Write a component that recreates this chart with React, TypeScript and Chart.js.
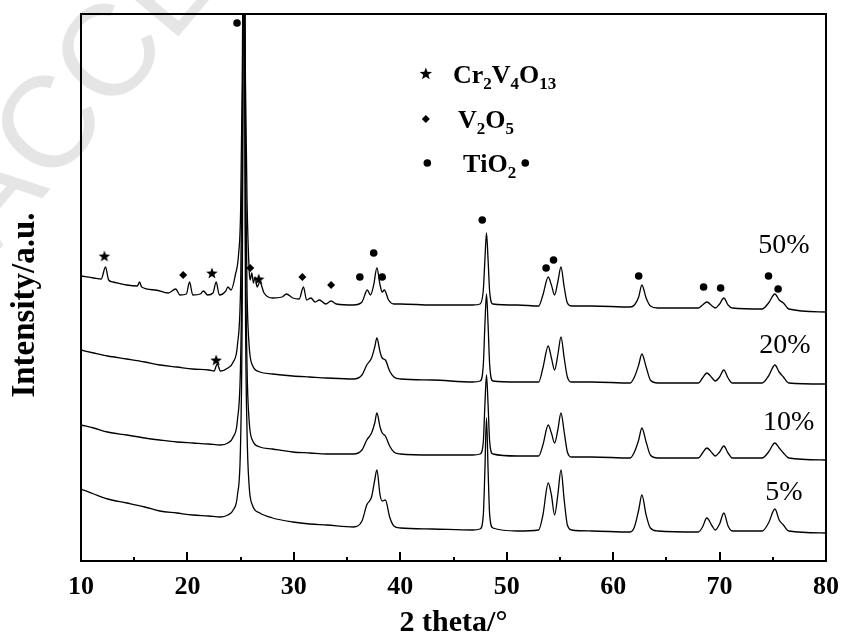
import React, { useEffect, useRef } from "react";
import { Chart, registerables } from "chart.js";

Chart.register(...registerables);

// ---------- data (2θ in degrees, intensity in a.u. incl. stacking offset) ----------
const theta5 = [10, 11.2, 12.5, 14.3, 16, 17.4, 19, 20.5, 22, 23.1, 23.8, 24.3, 24.7, 25, 25.15, 25.3, 25.45, 25.6, 25.8, 26.1, 26.8, 28, 29.9, 31.5, 33.1, 35.6, 36.4, 36.85, 37.3, 37.6, 37.8, 38.1, 38.3, 38.6, 39, 39.4, 40, 43, 46.8, 47.5, 47.8, 47.95, 48.1, 48.25, 48.4, 48.7, 51, 53, 53.4, 53.9, 54.2, 54.5, 54.8, 55.1, 55.4, 55.7, 56.1, 58, 61.6, 62, 62.4, 62.7, 63.1, 63.5, 64.2, 68, 68.4, 68.8, 69.3, 69.6, 70, 70.4, 70.8, 71.2, 74, 74.6, 75.2, 75.6, 76, 76.5, 80];
const int5 = [72, 67, 62, 58, 54, 50, 48, 46, 45, 44, 46, 51, 66, 121, 261, 700, 261, 130, 75, 56, 48, 43, 39, 37, 36, 34, 40, 56, 64, 81, 91, 66, 60, 61, 44, 35, 33, 32, 31, 32, 46, 91, 143, 91, 46, 33, 30, 31, 46, 78, 66, 46, 66, 91, 61, 36, 31, 30, 29, 34, 51, 66, 46, 33, 30, 29, 34, 43, 35, 31, 37, 48, 35, 30, 30, 38, 52, 41, 36, 30, 28];

const theta10 = theta5;
const int10 = [136, 133, 129, 126, 123, 121, 119, 118, 117, 116, 118, 124, 141, 201, 331, 700, 331, 195, 140, 121, 114, 112, 109, 108, 107, 107, 111, 121, 128, 138, 148, 134, 128, 125, 115, 109, 107, 106, 106, 107, 119, 156, 186, 156, 119, 107, 105, 105, 116, 136, 128, 118, 131, 148, 129, 109, 104, 104, 103, 109, 121, 133, 119, 106, 103, 103, 108, 113, 108, 105, 109, 115, 108, 103, 103, 109, 118, 113, 108, 103, 101];

const theta20 = [10, 11.2, 12.5, 14.3, 16, 17.4, 19, 20.5, 22, 22.5, 22.8, 23.1, 23.8, 24.3, 24.7, 25, 25.15, 25.3, 25.45, 25.6, 25.8, 26.1, 26.8, 28, 29.9, 31.5, 33.1, 35.6, 36.4, 36.85, 37.3, 37.6, 37.8, 38.1, 38.3, 38.6, 39, 39.4, 40, 43, 46.8, 47.5, 47.8, 47.95, 48.1, 48.25, 48.4, 48.7, 51, 53, 53.4, 53.9, 54.2, 54.5, 54.8, 55.1, 55.4, 55.7, 56.1, 58, 61.6, 62, 62.4, 62.7, 63.1, 63.5, 64.2, 68, 68.4, 68.8, 69.3, 69.6, 70, 70.4, 70.8, 71.2, 74, 74.6, 75.2, 75.6, 76, 76.5, 80];
const int20 = [211, 208, 205, 202, 199, 196, 194, 192, 191, 190, 197, 190, 193, 199, 216, 276, 406, 700, 406, 270, 215, 196, 189, 187, 185, 184, 183, 182, 186, 196, 203, 214, 223, 209, 203, 201, 190, 184, 182, 181, 179, 180, 196, 236, 267, 236, 196, 180, 179, 179, 193, 215, 203, 191, 206, 224, 203, 184, 179, 179, 178, 184, 196, 207, 194, 181, 178, 178, 183, 188, 183, 180, 184, 191, 183, 178, 178, 185, 196, 189, 184, 178, 177];

const theta50 = [10, 11.2, 11.9, 12.3, 12.6, 13, 14.3, 15.3, 15.5, 15.7, 17, 18.2, 18.9, 19.3, 19.9, 20.2, 20.5, 21.2, 21.5, 21.9, 22.4, 22.7, 23, 23.6, 23.8, 24.1, 24.5, 24.8, 25, 25.15, 25.3, 25.45, 25.6, 25.8, 25.9, 26.05, 26.2, 26.35, 26.55, 26.8, 27.2, 28, 28.9, 29.3, 29.9, 30.5, 30.9, 31.2, 31.6, 32, 32.4, 33, 33.5, 34, 35.6, 36.4, 36.9, 37.2, 37.5, 37.8, 38.1, 38.3, 38.5, 38.9, 39.4, 40, 43, 46.8, 47.5, 47.8, 47.95, 48.1, 48.25, 48.4, 48.7, 51, 53, 53.4, 53.9, 54.2, 54.5, 54.8, 55.1, 55.4, 55.7, 56.1, 58, 61.6, 62, 62.4, 62.7, 63.1, 63.5, 64.2, 68, 68.4, 68.8, 69.3, 69.6, 70, 70.4, 70.8, 71.2, 74, 74.6, 75.2, 75.6, 76, 76.5, 80];
const int50 = [285, 283, 282, 294, 281, 279, 276, 275, 279, 274, 271, 268, 272, 266, 267, 279, 266, 267, 270, 266, 268, 279, 266, 270, 274, 271, 286, 306, 351, 481, 700, 481, 361, 291, 281, 288, 278, 284, 274, 279, 268, 263, 264, 267, 263, 262, 274, 261, 263, 259, 261, 257, 260, 257, 256, 259, 271, 266, 276, 293, 276, 269, 271, 261, 257, 257, 256, 256, 257, 271, 301, 328, 301, 269, 257, 256, 255, 266, 284, 276, 266, 279, 294, 274, 258, 255, 255, 254, 256, 264, 276, 263, 255, 253, 253, 256, 259, 255, 253, 257, 263, 256, 253, 252, 258, 267, 261, 258, 252, 249];

// phase markers (2θ, height)
const tio2Theta = [24.66, 36.2, 37.5, 38.3, 47.7, 53.7, 54.4, 62.4, 68.5, 70.1, 74.6, 75.5];
const tio2Int = [538, 284, 308, 284, 341, 293, 301, 285, 274, 273, 285, 272];
const v2o5Theta = [19.6, 25.9, 30.8, 33.5];
const v2o5Int = [286, 293, 284, 276];
const crvoTheta = [12.2, 22.3, 26.7, 22.7];
const crvoInt = [305, 288, 282, 201];

// sample labels
const sampleLabels = ["50%", "20%", "10%", "5%"];
const sampleLabelTheta = [76.05, 76.15, 76.5, 76.05];
const sampleLabelInt = [315, 215, 138, 68];

// key
const phaseNames = ["Cr2V4O13", "V2O5", "TiO2"];
const keyMarkerTheta = 42.4;
const keyTextTheta = [44.95, 45.42, 45.89];
const keyRowInt = [487, 442, 398];

const majorTicks = [10, 20, 30, 40, 50, 60, 70, 80];
const minorTicks = [15, 25, 35, 45, 55, 65, 75];

const yTitle = "Intensity/a.u.";
const xTitle = "2 theta/°";

const SERIF = "'Liberation Serif', 'Times New Roman', serif";

function drawStar(ctx: CanvasRenderingContext2D, cx: number, cy: number, R: number) {
  const r = R * 0.42;
  ctx.beginPath();
  for (let i = 0; i < 10; i++) {
    const rad = i % 2 === 0 ? R : r;
    const a = -Math.PI / 2 + (i * Math.PI) / 5;
    const px = cx + rad * Math.cos(a);
    const py = cy + rad * Math.sin(a);
    if (i === 0) ctx.moveTo(px, py);
    else ctx.lineTo(px, py);
  }
  ctx.closePath();
  ctx.fill();
}

function makeStarImage(R: number): HTMLCanvasElement {
  const c = document.createElement("canvas");
  const s = Math.ceil(R * 2 + 2);
  c.width = s;
  c.height = s;
  const cx = c.getContext("2d")!;
  cx.fillStyle = "#000";
  drawStar(cx, s / 2, s / 2 + R * 0.1, R);
  return c;
}

function drawFormula(ctx: CanvasRenderingContext2D, text: string, x: number, baseline: number) {
  let cx = x;
  ctx.textAlign = "left";
  ctx.textBaseline = "alphabetic";
  for (const ch of text) {
    const isSub = /[0-9]/.test(ch);
    ctx.font = isSub ? `bold 17px ${SERIF}` : `bold 26px ${SERIF}`;
    ctx.fillText(ch, cx, baseline + (isSub ? 6 : 0));
    cx += ctx.measureText(ch).width;
  }
  return cx;
}

const overlayPlugin = {
  id: "xrdOverlay",
  beforeDraw(chart: any) {
    const { ctx } = chart;
    ctx.save();
    ctx.fillStyle = "rgba(0,0,0,0.10)";
    ctx.translate(-5, 255);
    ctx.rotate((-50 * Math.PI) / 180);
    ctx.font = "130px 'Liberation Sans', Arial, sans-serif";
    ctx.textBaseline = "alphabetic";
    ctx.fillText("ACCEPTED MANUSCRIPT", 0, 0);
    ctx.restore();
  },
  afterDraw(chart: any) {
    const { ctx, chartArea: ca } = chart;
    const x = chart.scales.x;
    const y = chart.scales.y;
    ctx.save();
    // frame
    ctx.strokeStyle = "#000";
    ctx.lineWidth = 2;
    ctx.strokeRect(ca.left, ca.top, ca.right - ca.left, ca.bottom - ca.top);
    // inward ticks
    ctx.beginPath();
    for (const v of majorTicks) {
      const px = Math.round(x.getPixelForValue(v));
      ctx.moveTo(px, ca.bottom);
      ctx.lineTo(px, ca.bottom - 9);
    }
    for (const v of minorTicks) {
      const px = Math.round(x.getPixelForValue(v));
      ctx.moveTo(px, ca.bottom);
      ctx.lineTo(px, ca.bottom - 4);
    }
    ctx.stroke();
    ctx.fillStyle = "#000";
    // y axis title
    ctx.save();
    ctx.translate(25, 305);
    ctx.rotate(-Math.PI / 2);
    ctx.font = `bold 33px ${SERIF}`;
    ctx.textAlign = "center";
    ctx.textBaseline = "middle";
    ctx.fillText(yTitle, 0, 0);
    ctx.restore();
    // sample labels
    ctx.font = `28px ${SERIF}`;
    ctx.textAlign = "center";
    ctx.textBaseline = "middle";
    sampleLabels.forEach((t, i) => {
      ctx.fillText(t, x.getPixelForValue(sampleLabelTheta[i]), y.getPixelForValue(sampleLabelInt[i]));
    });
    // key
    const mx = x.getPixelForValue(keyMarkerTheta);
    drawStar(ctx, mx, y.getPixelForValue(keyRowInt[0]), 6.5);
    const dy = y.getPixelForValue(keyRowInt[1]);
    ctx.beginPath();
    ctx.moveTo(mx, dy - 4);
    ctx.lineTo(mx + 4, dy);
    ctx.lineTo(mx, dy + 4);
    ctx.lineTo(mx - 4, dy);
    ctx.closePath();
    ctx.fill();
    const cy = y.getPixelForValue(keyRowInt[2]);
    ctx.beginPath();
    ctx.arc(mx + 1.5, cy, 3.8, 0, Math.PI * 2);
    ctx.fill();
    phaseNames.forEach((name, i) => {
      const end = drawFormula(ctx, name, x.getPixelForValue(keyTextTheta[i]), y.getPixelForValue(keyRowInt[i]) + 9);
      if (name === "TiO2") {
        ctx.beginPath();
        ctx.arc(end + 9, cy, 3.8, 0, Math.PI * 2);
        ctx.fill();
      }
    });
    ctx.restore();
  },
};

function toPoints(xs: number[], ys: number[]) {
  return xs.map((v, i) => ({ x: v, y: ys[i] }));
}

export default function App() {
  const canvasRef = useRef<HTMLCanvasElement | null>(null);

  useEffect(() => {
    document.body.style.margin = "0";
    const canvas = canvasRef.current;
    if (!canvas) return;
    const starImg = makeStarImage(6);
    const lineDs = (label: string, xs: number[], ys: number[]) => ({
      label,
      data: toPoints(xs, ys),
      borderColor: "#000",
      borderWidth: 1.3,
      pointRadius: 0,
      fill: false,
      cubicInterpolationMode: "monotone" as const,
    });
    const chart = new Chart(canvas, {
      type: "line",
      data: {
        datasets: [
          lineDs("5%", theta5, int5),
          lineDs("10%", theta10, int10),
          lineDs("20%", theta20, int20),
          lineDs("50%", theta50, int50),
          {
            label: "TiO2",
            data: toPoints(tio2Theta, tio2Int),
            showLine: false,
            pointStyle: "circle",
            pointRadius: 3.8,
            pointBackgroundColor: "#000",
            pointBorderWidth: 0,
            borderColor: "#000",
          },
          {
            label: "V2O5",
            data: toPoints(v2o5Theta, v2o5Int),
            showLine: false,
            pointStyle: "rectRot",
            pointRadius: 4,
            pointBackgroundColor: "#000",
            pointBorderWidth: 0,
            borderColor: "#000",
          },
          {
            label: "Cr2V4O13",
            data: toPoints(crvoTheta, crvoInt),
            showLine: false,
            pointStyle: starImg,
            pointRadius: 6,
            borderColor: "#000",
          },
        ],
      },
      options: {
        responsive: false,
        animation: false,
        events: [],
        layout: { padding: { top: 14, right: 16, left: 0, bottom: 0 } },
        plugins: { legend: { display: false }, tooltip: { enabled: false } },
        scales: {
          x: {
            type: "linear",
            min: 10,
            max: 80,
            afterFit: (s: any) => {
              s.height = 80;
              s.paddingLeft = 0;
              s.paddingRight = 0;
            },
            grid: { display: false, drawTicks: false },
            border: { display: false },
            ticks: {
              stepSize: 10,
              padding: 11,
              color: "#000",
              font: { family: SERIF, size: 26, weight: "bold" },
            },
            title: {
              display: true,
              text: xTitle,
              color: "#000",
              padding: { top: 0, bottom: 0 },
              font: { family: SERIF, size: 30, weight: "bold" },
            },
          },
          y: {
            min: 0,
            max: 547,
            afterFit: (s: any) => {
              s.width = 81;
            },
            grid: { display: false, drawTicks: false },
            border: { display: false },
            ticks: { display: false },
            title: { display: false },
          },
        },
      },
      plugins: [overlayPlugin],
    });
    return () => chart.destroy();
  }, []);

  return (
    <div style={{ width: 842, height: 641, position: "relative" }}>
      <canvas ref={canvasRef} width={842} height={641} />
    </div>
  );
}
